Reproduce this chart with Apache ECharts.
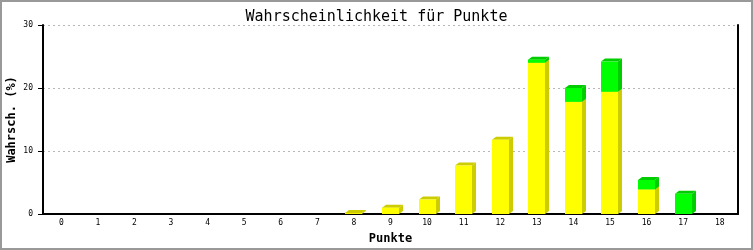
<!DOCTYPE html>
<html>
<head>
<meta charset="utf-8">
<script src="https://cdn.jsdelivr.net/npm/echarts@6/dist/echarts.min.js"></script>
<style>
html,body{margin:0;padding:0;background:#fff;}
#c{width:753px;height:250px;}
</style>
</head>
<body>
<div id="c"></div>
<script>
const categories = ['0','1','2','3','4','5','6','7','8','9','10','11','12','13','14','15','16','17','18'];
const yellowValues = [0,0,0,0,0,0,0,0,0.15,1.0,2.3,7.7,11.8,24.0,17.8,19.4,3.9,0,0];
const greenValues  = [0,0,0,0,0,0,0,0,0,0,0,0,0,0.5,2.2,4.8,1.5,3.2,0];
const yTicks = [0,10,20,30];

const FONT = 'DejaVu Sans Mono';
const DX = 4, DY = 3;

function buildData(vals, bases) {
  return vals.map((v, i) => [i, v, bases ? bases[i] : 0]);
}

function makeRender(front, dark) {
  return function (params, api) {
    const v = api.value(1);
    if (!(v > 0)) return null;
    const i = api.value(0);
    const b = api.value(2);
    const p0 = api.coord([i, b]);
    const p1 = api.coord([i, b + v]);
    const w = api.size([1, 0])[0] * 0.465;
    const x0 = Math.round(p0[0] - w / 2);
    const x1 = Math.round(p0[0] + w / 2);
    const yb = p0[1];
    const yt = p1[1];
    return {
      type: 'group',
      children: [
        { type: 'polygon', shape: { points: [[x1, yb], [x1 + DX, yb - DY], [x1 + DX, yt - DY], [x1, yt]] }, style: { fill: dark } },
        { type: 'polygon', shape: { points: [[x0, yt], [x0 + DX, yt - DY], [x1 + DX, yt - DY], [x1, yt]] }, style: { fill: dark } },
        { type: 'rect', shape: { x: x0, y: yt, width: x1 - x0, height: yb - yt }, style: { fill: front } }
      ]
    };
  };
}

const chart = echarts.init(document.getElementById('c'), null, { renderer: 'canvas' });
chart.setOption({
  animation: false,
  backgroundColor: '#fff',
  title: {
    text: 'Wahrscheinlichkeit für Punkte',
    left: 'center',
    top: 5,
    textStyle: { fontFamily: FONT, fontSize: 15, fontWeight: 'normal', color: '#000' }
  },
  graphic: [{
    type: 'rect', shape: { x: 1, y: 1, width: 751, height: 248 },
    style: { fill: 'none', stroke: '#999', lineWidth: 2 }, silent: true, z: 100
  }],
  grid: { left: 43, right: 15, top: 25, bottom: 36, containLabel: false, outerBoundsMode: 'none' },
  xAxis: {
    type: 'category',
    data: categories,
    boundaryGap: true,
    name: 'Punkte',
    nameLocation: 'middle',
    nameGap: 19,
    nameMoveOverlap: false,
    nameTextStyle: { fontFamily: FONT, fontSize: 12, fontWeight: 'bold', color: '#000' },
    axisLine: { lineStyle: { color: '#000', width: 2 } },
    axisTick: { show: false },
    axisLabel: { fontFamily: FONT, fontSize: 8, color: '#000', margin: 5, interval: 0 },
    splitLine: { show: false }
  },
  yAxis: [{
    type: 'value',
    min: 0, max: 30, interval: 10,
    name: 'Wahrsch. (%)',
    nameLocation: 'middle',
    nameRotate: 90,
    nameGap: 25,
    nameMoveOverlap: false,
    nameTextStyle: { fontFamily: FONT, fontSize: 12, fontWeight: 'bold', color: '#000' },
    axisLine: { show: true, lineStyle: { color: '#000', width: 2 } },
    axisTick: { show: true, length: 5, lineStyle: { color: '#000', width: 1 } },
    axisLabel: { fontFamily: FONT, fontSize: 8, color: '#000', margin: 10,
      formatter: v => (yTicks.indexOf(v) >= 0 ? String(v) : '') },
    splitLine: { show: true, lineStyle: { color: '#b8b8b8', type: [2, 3], width: 1 } }
  }, {
    type: 'value',
    min: 0, max: 30, interval: 10,
    position: 'right',
    axisLine: { show: true, lineStyle: { color: '#000', width: 2 } },
    axisTick: { show: false },
    axisLabel: { show: false },
    splitLine: { show: false }
  }],
  series: [{
    type: 'custom',
    name: 'gelb',
    renderItem: makeRender('#ffff00', '#cccc00'),
    encode: { x: 0, y: [1, 2] },
    data: buildData(yellowValues, null),
    clip: false
  }, {
    type: 'custom',
    name: 'grün',
    renderItem: makeRender('#00ff00', '#00cc00'),
    encode: { x: 0, y: [1, 2] },
    data: buildData(greenValues, yellowValues),
    clip: false
  }]
});
</script>
</body>
</html>
